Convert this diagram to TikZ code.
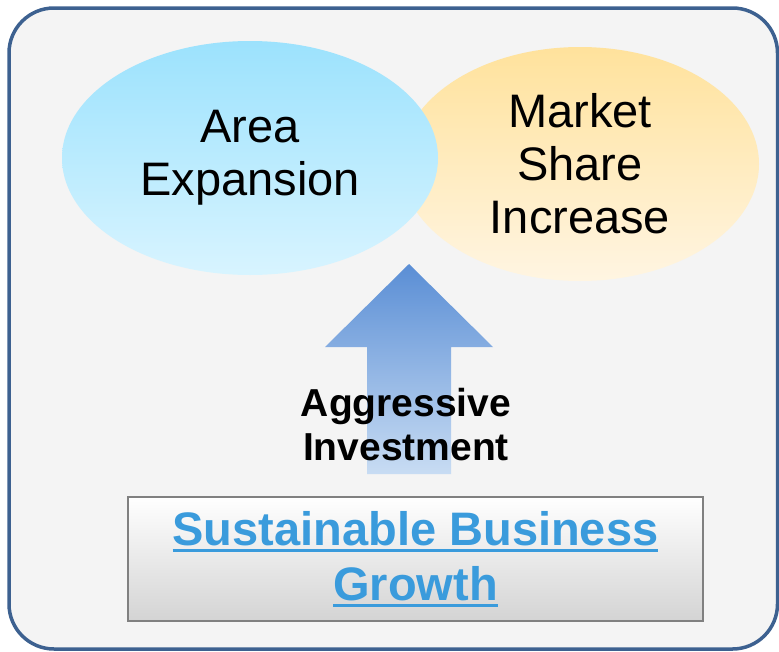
\documentclass[tikz,border=0pt]{standalone}
\usepackage{fontspec}
\setmainfont{Liberation Sans}
\usepackage{tikz}
\usetikzlibrary{shapes.geometric}

\definecolor{framecol}{HTML}{3D6190}
\definecolor{panelcol}{HTML}{F4F4F4}
\definecolor{skytop}{HTML}{9CE2FD}
\definecolor{skybot}{HTML}{D8F4FF}
\definecolor{sandtop}{HTML}{FFE29C}
\definecolor{sandbot}{HTML}{FFF5E2}
\definecolor{arrowtop}{HTML}{5A8ED5}
\definecolor{arrowbot}{HTML}{C8DCF3}
\definecolor{linkblue}{HTML}{3A9BDC}

\newcommand{\ulinetext}[1]{\vtop{\hbox{#1}\kern3pt\hrule height 3pt}}

\tikzstyle{goal} = [ellipse, inner sep=0pt, minimum width=376pt, minimum height=234pt, align=center, font=\fontsize{47}{53}\selectfont]
\tikzstyle{basebox} = [draw=gray, line width=2pt, top color=white, bottom color=black!17, minimum width=575pt, minimum height=124pt, inner sep=0pt, align=center]

\begin{document}
\begin{tikzpicture}[x=1pt, y=-1pt]
          \useasboundingbox (0,0) rectangle (779,651);
          % Frame
          \draw[framecol, fill=panelcol, line width=3.5pt, rounded corners=45pt] (9,8) rectangle (777.5,649);

          % Node positions
          \node[goal, minimum width=358pt, top color=sandtop, bottom color=sandbot] (share) at (580,164) {Market\\Share\\Increase};
          \node[goal, top color=skytop, bottom color=skybot] (area) at (250,158) {Area\\Expansion};

          % Arrow
          \shade[top color=arrowtop, bottom color=arrowbot]
            (409,264) -- (493,347) -- (451,347) -- (451,474) -- (367,474) -- (367,347) -- (325,347) -- cycle;
          \node[align=center, font=\bfseries\fontsize{39}{44}\selectfont] (invest) at (406,425) {Aggressive\\Investment};

          % Base
          \node[basebox, font=\bfseries\fontsize{47}{52}\selectfont\color{linkblue}] (growth) at (415.5,559)
            {\ulinetext{Sustainable Business}\\[3pt]\ulinetext{Growth}};

        \end{tikzpicture}
\end{document}
